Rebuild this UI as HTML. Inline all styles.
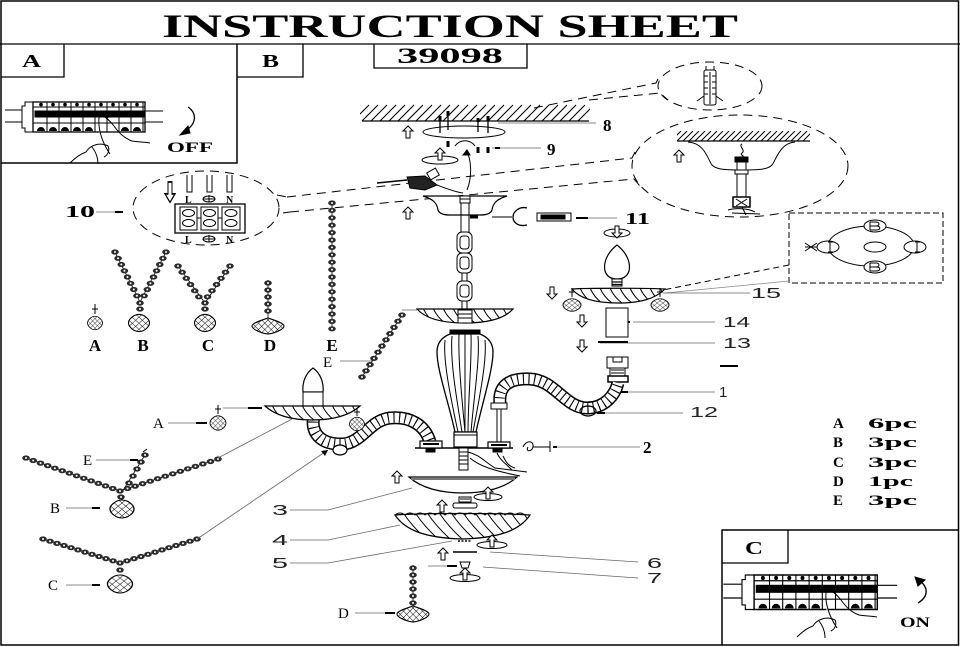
<!DOCTYPE html>
<html><head><meta charset="utf-8"><style>
html,body{margin:0;padding:0;background:#fff}
svg{display:block}
.sb{font-family:"Liberation Serif",serif;font-weight:bold;fill:#000}
.sr{font-family:"Liberation Serif",serif;font-weight:normal;fill:#000}
.nn{font-family:"Liberation Sans",sans-serif;font-weight:normal;fill:#222}
</style></head><body>
<svg width="960" height="647" viewBox="0 0 960 647" xmlns="http://www.w3.org/2000/svg">
<defs>
<pattern id="xh" width="4.5" height="4.5" patternUnits="userSpaceOnUse" patternTransform="rotate(45)"><rect width="4.5" height="4.5" fill="#fff"/><path d="M0,0V4.5M0,0H4.5" stroke="#000" stroke-width="0.9"/></pattern>
<g id="ua"><path d="M0,0L-5,5H-2V12H2V5H5Z" fill="#fff" stroke="#000" stroke-width="1"/></g>
<g id="da"><path d="M0,12L-5,7H-2V0H2V7H5Z" fill="#fff" stroke="#000" stroke-width="1"/></g>
<g id="bd"><ellipse rx="3.8" ry="2.6" fill="#2a2a2a"/><circle r="1" fill="#fff"/></g>
<g id="cr"><path d="M0,-9C5,-9 10,-4 10,0C10,4 5,9 0,9C-5,9 -10,4 -10,0C-10,-4 -5,-9 0,-9Z" fill="url(#xh)" stroke="#000" stroke-width="1.1"/></g>
<g id="crd"><path d="M0,-8C6,-6 16,-3 16,0C16,3 8,7 0,8C-8,7 -16,3 -16,0C-16,-3 -6,-6 0,-8Z" fill="url(#xh)" stroke="#000" stroke-width="1.1"/></g>
<g id="brk" stroke="#000" fill="none" stroke-width="1">
 <path d="M-17,8H0M-17,20H0M123,9H141M123,20H141"/>
 <path d="M3,0H11V30H3V26H0V4H3Z" fill="#fff"/>
 <rect x="11" y="0" width="112" height="30" fill="#fff" stroke-width="1.3"/>
 <rect x="13" y="9" width="110" height="6" fill="#000"/>
 <path d="M11,5H123M11,21H123M25,0V30M37,0V30M49,0V30M61,0V30M73,0V30M85,0V30M97,0V30M109,0V30M121,0V30"/>
 <g fill="#000" stroke="none">
  <circle cx="19" cy="2.6" r="1.8"/><circle cx="31" cy="2.6" r="1.8"/><circle cx="43" cy="2.6" r="1.8"/><circle cx="55" cy="2.6" r="1.8"/><circle cx="67" cy="2.6" r="1.8"/><circle cx="79" cy="2.6" r="1.8"/><circle cx="91" cy="2.6" r="1.8"/><circle cx="103" cy="2.6" r="1.8"/><circle cx="115" cy="2.6" r="1.8"/>
  <path d="M15,29a4,4 0 0 1 8,0ZM27,29a4,4 0 0 1 8,0ZM39,29a4,4 0 0 1 8,0ZM51,29a4,4 0 0 1 8,0ZM63,29a4,4 0 0 1 8,0ZM99,29a4,4 0 0 1 8,0ZM111,29a4,4 0 0 1 8,0Z"/>
 </g>
</g>
<clipPath id="cd1"><path d="M417,309L513,309C505,318 490,323 465,323C440,323 425,318 417,309Z"/></clipPath>
<clipPath id="cd2"><path d="M572,289C585,288 650,288 665,289C655,299 640,303 618,303C596,303 580,299 572,289Z"/></clipPath>
<clipPath id="cd3"><path d="M265,406L360,406C350,415 335,420 312,420C290,420 275,415 265,406Z"/></clipPath>
<clipPath id="cd4"><path d="M395,515C420,513 505,513 530,515C520,530 500,538 462,539C425,538 405,530 395,515Z"/></clipPath>
<clipPath id="ch1"><rect x="360" y="104" width="230" height="17"/></clipPath>
<clipPath id="ch2"><rect x="677" y="131" width="133" height="10"/></clipPath>
</defs>

<!-- frame -->
<g fill="none" stroke="#000">
<rect x="1" y="1" width="957.5" height="644" stroke-width="1.5"/>
<path d="M0,44H960" stroke-width="1.3"/>
<path d="M1,163H237V44" stroke-width="1.5"/>
<path d="M1,77H64V44" stroke-width="1.3"/>
<path d="M237,77H303V44" stroke-width="1.3"/>
<path d="M374,44V68H527V44" stroke-width="1.3"/>
<path d="M722,645V530H958" stroke-width="1.5"/>
<path d="M722,563H788V530" stroke-width="1.3"/>
</g>

<text class="sb" x="162" y="37" font-size="33" textLength="576" lengthAdjust="spacingAndGlyphs">INSTRUCTION SHEET</text>
<text class="sb" x="397" y="63" font-size="22" textLength="106" lengthAdjust="spacingAndGlyphs">39098</text>
<text class="sb" x="22" y="67" font-size="18" textLength="19" lengthAdjust="spacingAndGlyphs">A</text>
<text class="sb" x="262" y="67" font-size="18" textLength="17" lengthAdjust="spacingAndGlyphs">B</text>
<text class="sb" x="745" y="554" font-size="18" textLength="18" lengthAdjust="spacingAndGlyphs">C</text>

<!-- panel A -->
<use href="#brk" transform="translate(22,102)"/>
<g fill="none" stroke="#000" stroke-width="1">
<path d="M99,118C98,130 102,142 110,154L118,154C116,146 120,140 128,138C136,137 143,140 150,143L150,156L100,160Z" fill="#fff" stroke="none"/>
<path d="M99,118C98,130 102,142 110,154M103,116C107,118 110,121 114,126C119,133 124,138 132,141C138,142 145,142 150,143"/>
<path d="M99,118C100,114 106,114 108,118"/>
<path d="M86,152C90,145 100,142 108,146C110,150 108,155 104,157M86,152C80,154 75,158 70,163M92,147C96,152 98,158 98,164"/>
<path d="M188,107C197,113 197,124 185,131" stroke-width="1.3"/>
<path d="M180,135L188,126L190,133Z" fill="#000"/>
</g>
<text class="sb" x="167" y="152" font-size="15" textLength="46" lengthAdjust="spacingAndGlyphs">OFF</text>

<!-- panel C -->
<use href="#brk" transform="translate(742,575) scale(1.1,1.15)"/>
<g fill="none" stroke="#000" stroke-width="1">
<path d="M826,592C825,604 829,616 837,628L845,628C843,620 847,614 855,612C863,611 870,614 877,617L877,630L827,634Z" fill="#fff" stroke="none"/>
<path d="M826,592C825,604 829,616 837,628M830,590C834,592 837,595 841,600C846,607 851,612 859,615C865,616 872,616 877,617"/>
<path d="M826,592C827,588 833,588 835,592"/>
<path d="M813,626C817,619 827,616 835,620C837,624 835,629 831,631M813,626C807,628 802,632 797,637M819,621C823,626 825,632 825,638"/>
<path d="M918,603C928,597 929,588 920,581" stroke-width="1.3"/>
<path d="M915,577L925,580L918,586Z" fill="#000"/>
</g>
<text class="sb" x="900" y="627" font-size="15" textLength="30" lengthAdjust="spacingAndGlyphs">ON</text>

<!-- parts list -->
<g class="sb" font-size="15">
<text x="833" y="428">A</text><text x="868" y="428" textLength="49" lengthAdjust="spacingAndGlyphs">6pc</text>
<text x="833" y="447">B</text><text x="868" y="447" textLength="49" lengthAdjust="spacingAndGlyphs">3pc</text>
<text x="833" y="467">C</text><text x="868" y="467" textLength="49" lengthAdjust="spacingAndGlyphs">3pc</text>
<text x="833" y="486">D</text><text x="868" y="486" textLength="45" lengthAdjust="spacingAndGlyphs">1pc</text>
<text x="833" y="505">E</text><text x="868" y="505" textLength="49" lengthAdjust="spacingAndGlyphs">3pc</text>
</g>

<!-- dashed detail connectors -->
<g fill="none" stroke="#000" stroke-width="1" stroke-dasharray="9 6">
<path d="M534,108L656,83L659,77"/>
<path d="M589,100L660,93L668,100"/>
<ellipse cx="710" cy="86" rx="52" ry="24"/>
<path d="M287,197L632,158L636,150"/>
<path d="M290,212L634,179L640,186"/>
<ellipse cx="740" cy="166" rx="108" ry="51"/>
<path d="M277,195L287,197M283,213L290,212"/>
<ellipse cx="206" cy="208" rx="73" ry="37"/>
<path d="M96,212H120" stroke-dasharray="none" stroke="#666" stroke-width="0.8"/>
<rect x="789" y="213" width="154" height="70" stroke-dasharray="6 3"/>
<path d="M789,265L663,290" stroke-dasharray="6 4"/>
<path d="M789,281L665,293" stroke-dasharray="none" stroke="#888" stroke-width="0.8"/>
</g>
<path d="M115,212H123" stroke="#000" stroke-width="2"/>
<text class="sb" x="65" y="217" font-size="17" textLength="30" lengthAdjust="spacingAndGlyphs">10</text>

<!-- anchor -->
<g fill="none" stroke="#000" stroke-width="1">
<rect x="704" y="70" width="12" height="35" rx="2" fill="#fff"/>
<path d="M706,70V66M714,70V66M708,76H704M708,82H704M708,88H704M708,94H704M712,76H716M712,82H716M712,88H716M712,94H716M710,72V104"/>
<path d="M704,96L697,101M716,96L723,101"/>
</g>

<!-- ceiling close-up -->
<g fill="none" stroke="#000" stroke-width="1">
<g clip-path="url(#ch2)"><path d="M671,141l10,-10M677,141l10,-10M683,141l10,-10M689,141l10,-10M695,141l10,-10M701,141l10,-10M707,141l10,-10M713,141l10,-10M719,141l10,-10M725,141l10,-10M731,141l10,-10M737,141l10,-10M743,141l10,-10M749,141l10,-10M755,141l10,-10M761,141l10,-10M767,141l10,-10M773,141l10,-10M779,141l10,-10M785,141l10,-10M791,141l10,-10M797,141l10,-10M803,141l10,-10"/></g>
<path d="M677,141H810" stroke-width="1.3"/>
<path d="M688,142C705,143 708,160 712,165C716,169 722,170 742,170C762,170 768,169 772,165C776,160 780,143 795,142"/>
<path d="M742,144C738,146 746,150 742,153C739,155 746,156 742,157"/>
<rect x="735" y="157" width="13" height="5" fill="#000"/>
<path d="M737,162V197M746,162V197"/>
<rect x="735" y="170" width="13" height="4" fill="#fff"/>
<rect x="733" y="197" width="17" height="10" fill="#fff" stroke-width="1.5"/>
<path d="M736,199L747,206M747,199L736,206M728,210C735,208 748,208 755,212M732,213L760,214M742,207L746,215"/>
</g>
<use href="#ua" x="679" y="150"/>

<!-- dashed box content -->
<g fill="#fff" stroke="#000" stroke-width="1">
<ellipse cx="871" cy="246" rx="43" ry="20" fill="none"/>
<ellipse cx="875" cy="247" rx="11" ry="5"/>
<ellipse cx="875" cy="226" rx="11" ry="6"/><path d="M870,222V230M870,222H876C880,222 880,226 876,226H870M876,226C881,226 881,230 876,230H870" fill="none"/>
<ellipse cx="875" cy="267" rx="11" ry="6"/><path d="M870,263V271M870,263H876C880,263 880,267 876,267H870M876,267C881,267 881,271 876,271H870" fill="none"/>
<ellipse cx="828" cy="247" rx="11" ry="6"/><path d="M830,242V252M828,242H833M828,252H833" fill="none"/>
<ellipse cx="915" cy="247" rx="11" ry="6"/><path d="M917,242V252M915,242H920M915,252H920" fill="none"/>
<path d="M805,243L817,251M805,251L817,243M805,247H817" fill="none"/>
</g>

<!-- terminal block -->
<g fill="none" stroke="#000" stroke-width="1">
<rect x="175" y="204" width="70" height="29" fill="#fff" stroke-width="1.3"/>
<rect x="180" y="207" width="17" height="23"/><rect x="201" y="207" width="17" height="23"/><rect x="222" y="207" width="18" height="23"/>
<ellipse cx="188.5" cy="213" rx="6" ry="3.5"/><ellipse cx="188.5" cy="223" rx="6" ry="3.5"/>
<ellipse cx="209.5" cy="213" rx="6" ry="3.5"/><ellipse cx="209.5" cy="223" rx="6" ry="3.5"/>
<ellipse cx="231" cy="213" rx="6" ry="3.5"/><ellipse cx="231" cy="223" rx="6" ry="3.5"/>
<path d="M197,218H201M218,218H222"/>
<path d="M187,175V192H192V175M207,175V192H212V175M227,175V192H232V175"/>
<ellipse cx="209" cy="199" rx="6" ry="3"/><path d="M209,195V202M203,199H215"/>
<ellipse cx="209" cy="239" rx="6" ry="3"/><path d="M209,235V242M203,239H215"/>
</g>
<use href="#da" transform="translate(170,182) scale(1,1.7)"/>
<g class="sb" font-size="10"><text x="185" y="203">L</text><text x="226" y="203">N</text><text x="185" y="243">L</text><text x="226" y="243">N</text></g>

<!-- crystal legend -->
<g>
<path d="M95,304V314M92,309H98" stroke="#000" stroke-width="1"/>
<use href="#cr" transform="translate(95,323) scale(0.75)"/>
<path d="M115,252L140,302L166,252M178,266L205,303L230,266M268,280V318M332,201V330" stroke="#000" stroke-width="0.8" fill="none"/>
<use href="#bd" x="115" y="252"/><use href="#bd" x="118.1" y="258.3"/><use href="#bd" x="121.3" y="264.5"/><use href="#bd" x="124.4" y="270.8"/><use href="#bd" x="127.5" y="277"/><use href="#bd" x="130.6" y="283.3"/><use href="#bd" x="133.8" y="289.5"/><use href="#bd" x="136.9" y="295.8"/>
<use href="#bd" x="166" y="252"/><use href="#bd" x="162.9" y="258.3"/><use href="#bd" x="159.8" y="264.5"/><use href="#bd" x="156.6" y="270.8"/><use href="#bd" x="153.5" y="277"/><use href="#bd" x="150.4" y="283.3"/><use href="#bd" x="147.3" y="289.5"/><use href="#bd" x="144.1" y="295.8"/>
<use href="#bd" x="140" y="303"/><use href="#bd" x="140" y="309"/>
<use href="#cr" transform="translate(139,323) scale(1.05,0.95)"/>
<use href="#bd" x="178" y="266"/><use href="#bd" x="182.2" y="272.2"/><use href="#bd" x="186.3" y="278.3"/><use href="#bd" x="190.5" y="284.5"/><use href="#bd" x="194.7" y="290.7"/><use href="#bd" x="198.8" y="296.8"/>
<use href="#bd" x="230" y="266"/><use href="#bd" x="225.5" y="272.2"/><use href="#bd" x="221" y="278.3"/><use href="#bd" x="216.5" y="284.5"/><use href="#bd" x="212" y="290.7"/><use href="#bd" x="207.5" y="296.8"/>
<use href="#bd" x="205" y="303"/><use href="#bd" x="205" y="309"/>
<use href="#cr" transform="translate(205,323) scale(1.05,0.95)"/>
<use href="#bd" x="268" y="283"/><use href="#bd" x="268" y="290"/><use href="#bd" x="268" y="297"/><use href="#bd" x="268" y="304"/><use href="#bd" x="268" y="311"/>
<use href="#crd" transform="translate(268,326)"/>
<use href="#bd" x="332" y="203"/><use href="#bd" x="332" y="210.4"/><use href="#bd" x="332" y="217.8"/><use href="#bd" x="332" y="225.2"/><use href="#bd" x="332" y="232.6"/><use href="#bd" x="332" y="240"/><use href="#bd" x="332" y="247.4"/><use href="#bd" x="332" y="254.8"/><use href="#bd" x="332" y="262.2"/><use href="#bd" x="332" y="269.6"/><use href="#bd" x="332" y="277"/><use href="#bd" x="332" y="284.4"/><use href="#bd" x="332" y="291.8"/><use href="#bd" x="332" y="299.2"/><use href="#bd" x="332" y="306.6"/><use href="#bd" x="332" y="314"/><use href="#bd" x="332" y="321.4"/><use href="#bd" x="332" y="328.8"/>
</g>
<g class="sb" font-size="17" text-anchor="middle">
<text x="95" y="351">A</text><text x="143" y="351">B</text><text x="208" y="351">C</text><text x="270" y="351">D</text><text x="332" y="351">E</text>
</g>

<!-- lower-left necklaces -->
<g>
<path d="M26,458L120,491L218,459M43,539L120,563L197,539M145,455L122,492" stroke="#000" stroke-width="0.8" fill="none"/>
<use href="#bd" x="26" y="458"/><use href="#bd" x="33.2" y="460.5"/><use href="#bd" x="40.5" y="463.1"/><use href="#bd" x="47.7" y="465.6"/><use href="#bd" x="54.9" y="468.2"/><use href="#bd" x="62.2" y="470.7"/><use href="#bd" x="69.4" y="473.2"/><use href="#bd" x="76.6" y="475.8"/><use href="#bd" x="83.8" y="478.3"/><use href="#bd" x="91.1" y="480.8"/><use href="#bd" x="98.3" y="483.4"/><use href="#bd" x="105.5" y="485.9"/><use href="#bd" x="112.8" y="488.5"/><use href="#bd" x="120" y="491"/>
<use href="#bd" x="127.5" y="488.5"/><use href="#bd" x="135.1" y="486.1"/><use href="#bd" x="142.6" y="483.6"/><use href="#bd" x="150.2" y="481.2"/><use href="#bd" x="157.7" y="478.7"/><use href="#bd" x="165.2" y="476.2"/><use href="#bd" x="172.8" y="473.8"/><use href="#bd" x="180.3" y="471.3"/><use href="#bd" x="187.8" y="468.8"/><use href="#bd" x="195.4" y="466.4"/><use href="#bd" x="202.9" y="463.9"/><use href="#bd" x="210.5" y="461.5"/><use href="#bd" x="218" y="459"/>
<use href="#bd" x="145" y="455"/><use href="#bd" x="141" y="462"/><use href="#bd" x="137" y="469"/><use href="#bd" x="133" y="476"/><use href="#bd" x="129" y="483"/>
<path d="M143,452L147,449" stroke="#000"/>
<use href="#bd" x="121" y="497"/>
<use href="#cr" transform="translate(122,509) scale(1.2,1)"/>
<use href="#bd" x="43" y="539"/><use href="#bd" x="50" y="541.2"/><use href="#bd" x="57" y="543.4"/><use href="#bd" x="64" y="545.5"/><use href="#bd" x="71" y="547.7"/><use href="#bd" x="78" y="549.9"/><use href="#bd" x="85" y="552.1"/><use href="#bd" x="92" y="554.3"/><use href="#bd" x="99" y="556.5"/><use href="#bd" x="106" y="558.6"/><use href="#bd" x="113" y="560.8"/><use href="#bd" x="120" y="563"/>
<use href="#bd" x="127" y="560.8"/><use href="#bd" x="134" y="558.6"/><use href="#bd" x="141" y="556.5"/><use href="#bd" x="148" y="554.3"/><use href="#bd" x="155" y="552.1"/><use href="#bd" x="162" y="549.9"/><use href="#bd" x="169" y="547.7"/><use href="#bd" x="176" y="545.5"/><use href="#bd" x="183" y="543.4"/><use href="#bd" x="190" y="541.2"/><use href="#bd" x="197" y="539"/>
<use href="#bd" x="120" y="570"/>
<use href="#cr" transform="translate(120,584) scale(1.25,1)"/>
<path d="M218,405V414M215,409H221" stroke="#000"/>
<use href="#cr" transform="translate(218,423) scale(0.8)"/>
</g>
<g fill="none" stroke="#666" stroke-width="0.8">
<path d="M168,423H207M223,408H262M96,460H138M66,508H100M66,585H100M355,613H395M218,458L292,419M197,539L328,450"/>
<path d="M290,510H328L412,488M290,540H328L400,525M290,563H328L452,541M638,562L490,552M638,578L483,567M428,566H447"/>
<path d="M340,361H372M402,310H417"/>
<path d="M596,123H498M541,148H492M617,218H577M750,293H663M715,322H633M715,343H600M715,392H628M683,413H597M640,447H553"/>
</g>
<g stroke="#000" stroke-width="2">
<path d="M196,423H207M248,408H262M130,460H138M92,508H100M92,585H100M385,613H395M576,218H588M495,148H500M720,366H738M612,322H630M614,392H628M597,413H605M557,447H553"/>
</g>
<path d="M328,450L321,451L325,456Z" fill="#000"/>
<g class="sr" font-size="15">
<text x="153" y="428">A</text><text x="83" y="465">E</text><text x="50" y="513">B</text><text x="48" y="590">C</text><text x="338" y="618">D</text><text x="323" y="367">E</text>
</g>
<g class="nn" font-size="15">
<text x="751" y="298" textLength="30" lengthAdjust="spacingAndGlyphs">15</text>
<text x="723" y="327" textLength="27" lengthAdjust="spacingAndGlyphs">14</text>
<text x="723" y="348" textLength="28" lengthAdjust="spacingAndGlyphs">13</text>
<text x="719" y="397">1</text>
<text x="690" y="417" textLength="28" lengthAdjust="spacingAndGlyphs">12</text>
<text x="272" y="515" textLength="16" lengthAdjust="spacingAndGlyphs">3</text>
<text x="272" y="545" textLength="16" lengthAdjust="spacingAndGlyphs">4</text>
<text x="272" y="568" textLength="16" lengthAdjust="spacingAndGlyphs">5</text>
<text x="647" y="568" textLength="15" lengthAdjust="spacingAndGlyphs">6</text>
<text x="647" y="583" textLength="15" lengthAdjust="spacingAndGlyphs">7</text>
</g>
<g class="sb" font-size="17">
<text x="603" y="131">8</text><text x="547" y="155">9</text>
<text x="625" y="224" textLength="25" lengthAdjust="spacingAndGlyphs">11</text>
<text x="643" y="453">2</text>
</g>

<!-- ceiling + canopy -->
<g fill="none" stroke="#000" stroke-width="1">
<g clip-path="url(#ch1)" stroke-width="1.1"><path d="M344,121l16,-16M353,121l16,-16M362,121l16,-16M371,121l16,-16M380,121l16,-16M389,121l16,-16M398,121l16,-16M407,121l16,-16M416,121l16,-16M425,121l16,-16M434,121l16,-16M443,121l16,-16M452,121l16,-16M461,121l16,-16M470,121l16,-16M479,121l16,-16M488,121l16,-16M497,121l16,-16M506,121l16,-16M515,121l16,-16M524,121l16,-16M533,121l16,-16M542,121l16,-16M551,121l16,-16M560,121l16,-16M569,121l16,-16M578,121l16,-16"/></g>
<path d="M362,121H589" stroke-width="1.3"/>
<ellipse cx="464" cy="132" rx="41" ry="6"/>
<path d="M440,118V133M448,113V130M478,120V132M488,118V133" stroke-width="1.3"/>
<path d="M440,116V121M448,111V116M478,118V122M488,116V121" stroke-width="3"/>
<path d="M448,141V147M478,147V153M488,147V153" stroke-width="3"/>
<path d="M455,146C460,139 470,139 475,146M466,150C472,160 472,178 467,190"/>
<path d="M467,150L463,155L470,155Z" fill="#000"/>
<ellipse cx="440" cy="160" rx="18" ry="4"/>
<path d="M377,183L407,180" stroke-width="1.5"/>
<path d="M407,177L425,176L437,185L425,190L410,188Z" fill="#222"/>
<rect x="428" y="170" width="10" height="8" transform="rotate(-30 433 174)" fill="#fff"/>
<path d="M437,185C445,188 455,192 463,193"/>
<!-- cup -->
<path d="M423,196L507,196C497,199 493,203 492,210C491,213 488,215 480,215L450,215C442,215 439,213 438,210C437,203 433,199 423,196Z" fill="#fff" stroke-width="1.2"/>
<rect x="460" y="196" width="10" height="7" fill="#fff"/>
<path d="M460,199H470M461,203V232M469,203V232"/>
<path d="M470,217H478" stroke-width="3"/>
<path d="M527,208C519,206 513,212 513,217C513,223 519,227 527,225" stroke-width="1.3"/>
<path d="M492,217H512"/>
<rect x="537" y="213" width="34" height="8" fill="#fff"/>
<rect x="541" y="215" width="24" height="4" fill="#000"/>
<!-- chain -->
<rect x="457" y="232" width="15" height="21" rx="5"/><rect x="460" y="236" width="9" height="13" rx="3"/>
<rect x="457" y="253" width="15" height="20" rx="5"/><rect x="460" y="257" width="9" height="12" rx="3"/>
<path d="M462,273V281M467,273V281"/>
<rect x="457" y="281" width="15" height="20" rx="5"/><rect x="460" y="285" width="9" height="12" rx="3"/>
<path d="M462,301V310M467,301V310"/>
</g>
<use href="#ua" x="408" y="126"/>
<use href="#ua" x="408" y="207"/>
<use href="#ua" x="440" y="148"/>

<!-- bulb top right -->
<g fill="none" stroke="#000" stroke-width="1">
<ellipse cx="617" cy="233" rx="13" ry="4"/>
<path d="M617,245C608,252 603,262 605,271C607,277 612,279 617,279C622,279 627,277 629,271C631,262 626,252 617,245Z" fill="#fff" stroke-width="1.2"/>
<rect x="612" y="279" width="10" height="7" fill="#fff"/>
<path d="M612,282H622M612,284.5H622" stroke-width="1.2"/>
</g>
<use href="#da" x="617" y="226"/>

<!-- right dish 15 and parts -->
<g fill="none" stroke="#000" stroke-width="1">
<path d="M572,289C585,288 650,288 665,289C655,299 640,303 618,303C596,303 580,299 572,289Z" fill="#fff" stroke-width="1.2"/>
<g clip-path="url(#cd2)"><path d="M570,288q4,9 12,15M580,288q4,9 12,15M590,288q4,9 12,15M600,288q4,9 12,15M610,288q4,9 12,15M620,288q4,9 12,15M630,288q4,9 12,15M640,288q4,9 12,15M650,288q4,9 12,15M660,288q4,9 12,15"/></g>
<path d="M572,288V297M569,292H575M660,288V297M657,292H663"/>
<rect x="606" y="308" width="22" height="29" fill="#fff"/>
<path d="M598,342H628" stroke-width="2"/>
<path d="M607,357H628V368H607Z" fill="#fff"/>
<path d="M613,357V362H622V357"/>
<rect x="610" y="368" width="15" height="8" fill="#fff"/><path d="M611,370H624M611,373H624"/>
<rect x="608" y="376" width="20" height="6" fill="#fff" stroke-width="1.5"/>
</g>
<use href="#cr" transform="translate(572,305) scale(0.9,0.7)"/>
<use href="#cr" transform="translate(660,305) scale(0.9,0.7)"/>
<use href="#da" x="552" y="287"/>
<use href="#da" x="582" y="315"/>
<use href="#da" x="582" y="340"/>

<!-- arms -->
<g fill="none">
<path d="M314,416C310,432 320,445 343,444C362,443 370,420 390,418C410,416 425,425 430,442" stroke="#000" stroke-width="13"/>
<path d="M314,416C310,432 320,445 343,444C362,443 370,420 390,418C410,416 425,425 430,442" stroke="#fff" stroke-width="10"/>
<path d="M314,416C310,432 320,445 343,444C362,443 370,420 390,418C410,416 425,425 430,442" stroke="#000" stroke-width="10" stroke-dasharray="1.1 4.5"/>
<path d="M500,404C498,385 510,378 530,379C555,380 565,408 587,408C605,408 615,395 618,383" stroke="#000" stroke-width="13"/>
<path d="M500,404C498,385 510,378 530,379C555,380 565,408 587,408C605,408 615,395 618,383" stroke="#fff" stroke-width="10"/>
<path d="M500,404C498,385 510,378 530,379C555,380 565,408 587,408C605,408 615,395 618,383" stroke="#000" stroke-width="10" stroke-dasharray="1.1 4.5"/>
<ellipse cx="340" cy="450" rx="7" ry="5" stroke="#000" stroke-width="1.2" fill="#fff"/>
<ellipse cx="588" cy="411" rx="8" ry="5" stroke="#000" stroke-width="1.2"/>
</g>
<g fill="none" stroke="#000" stroke-width="1">
<!-- left candle + dish -->
<path d="M313,368C306,373 302,382 303,392L323,392C324,382 320,373 313,368Z" fill="#fff" stroke-width="1.2"/>
<rect x="303" y="392" width="20" height="14" fill="#fff"/>
<path d="M265,406L360,406C350,415 335,420 312,420C290,420 275,415 265,406Z" fill="#fff" stroke-width="1.2"/>
<g clip-path="url(#cd3)"><path d="M262,405q4,9 12,15M272,405q4,9 12,15M282,405q4,9 12,15M292,405q4,9 12,15M302,405q4,9 12,15M312,405q4,9 12,15M322,405q4,9 12,15M332,405q4,9 12,15M342,405q4,9 12,15M352,405q4,9 12,15"/></g>
<path d="M357,408V416M354,412H360"/>
<!-- central bobeche -->
<path d="M417,309L513,309C505,318 490,323 465,323C440,323 425,318 417,309Z" fill="#fff" stroke-width="1.2"/>
<g clip-path="url(#cd1)"><path d="M413,308q4,9 12,15M423,308q4,9 12,15M433,308q4,9 12,15M443,308q4,9 12,15M453,308q4,9 12,15M463,308q4,9 12,15M473,308q4,9 12,15M483,308q4,9 12,15M493,308q4,9 12,15M503,308q4,9 12,15"/></g>
<rect x="458" y="310" width="14" height="13" fill="#fff"/><path d="M458,314H472M458,318H472"/>
<!-- vase -->
<path d="M450,330H480V334H450Z" fill="#000"/>
<path d="M450,334C440,338 437,345 437,352C437,370 448,400 455,432L476,432C483,400 493,370 493,352C493,345 490,338 480,334Z" fill="#fff" stroke-width="1.3"/>
<path d="M445,340C443,360 450,395 458,432M452,336C450,360 456,395 462,432M459,334C458,360 462,400 465,432M465,334V432M471,334C472,360 468,400 468,432M478,336C480,360 474,395 471,432M485,340C487,360 480,395 473,432"/>
<rect x="454" y="432" width="23" height="15" fill="#fff" stroke-width="1.2"/>
<path d="M454,435H477"/>
<!-- base plate -->
<path d="M415,448H513" stroke-width="1.5"/>
<rect x="420" y="441" width="22" height="7" fill="#fff" stroke-width="1.2"/><path d="M423,444H439" stroke-width="2"/>
<rect x="491" y="403" width="16" height="6" fill="#fff"/>
<path d="M497,409V442M501,409V442"/>
<rect x="488" y="442" width="22" height="6" fill="#fff" stroke-width="1.2"/><path d="M491,445H507" stroke-width="2"/>
<rect x="426" y="448" width="9" height="4" fill="#000"/>
<rect x="493" y="448" width="9" height="4" fill="#000"/>
<rect x="459" y="448" width="9" height="22" fill="#fff"/>
<path d="M459,452H468M459,456H468M459,460H468M459,464H468"/>
<path d="M468,452C480,455 485,462 495,468L527,472M470,458C478,465 490,470 520,476M497,453C500,460 505,463 512,470M503,456C506,462 508,466 515,468"/>
<path d="M523,447C526,440 534,440 533,447C532,452 525,452 528,447M533,447H550M550,441V452"/>
<!-- drip bowl 3 -->
<path d="M409,477L517,477C505,488 485,493 463,493C441,493 421,488 409,477Z" fill="#fff" stroke-width="1.2"/>
<path d="M411,479H515" stroke="#777" stroke-width="2"/>
<ellipse cx="488" cy="497" rx="14" ry="3.5"/>
<rect x="459" y="497" width="12" height="5" fill="#fff"/><path d="M460,499H470"/>
<rect x="453" y="503" width="24" height="5" rx="2" fill="#fff"/>
<!-- dish 4 -->
<path d="M395,515C420,513 505,513 530,515C520,530 500,538 462,539C425,538 405,530 395,515Z" fill="#fff" stroke-width="1.2"/>
<g clip-path="url(#cd4)"><path d="M392,514q8,12 22,25M404,514q8,12 22,25M416,514q8,12 22,25M428,514q8,12 22,25M440,514q8,12 22,25M452,514q8,12 22,25M464,514q8,12 22,25M476,514q8,12 22,25M488,514q8,12 22,25M500,514q8,12 22,25M512,514q8,12 22,25M524,514q8,12 22,25"/></g>
<path d="M395,515q5,-4 10,0q5,-4 10,0q5,-4 10,0q5,-4 10,0q5,-4 10,0q5,-4 10,0q5,-4 10,0q5,-4 10,0q5,-4 10,0q5,-4 10,0q5,-4 10,0q5,-4 10,0q5,-4 10,0"/>
<path d="M458,541H472" stroke-dasharray="2 1.5" stroke-width="1.5"/>
<ellipse cx="492" cy="545" rx="15" ry="3.5"/>
<path d="M453,552H477" stroke-width="1.5"/>
<path d="M460,562H470L468,568H462Z" fill="#fff"/>
<path d="M447,566H457" stroke-width="2"/>
<ellipse cx="465" cy="578" rx="15" ry="3.5"/>
</g>
<use href="#cr" transform="translate(357,424) scale(0.75)"/>
<use href="#ua" x="397" y="471"/>
<use href="#ua" x="488" y="487"/>
<use href="#ua" x="442" y="500"/>
<use href="#ua" x="492" y="535"/>
<use href="#ua" x="443" y="548"/>
<use href="#ua" x="465" y="568"/>

<!-- E chain near chandelier -->
<path d="M402,315L362,377" stroke="#000" stroke-width="0.8"/>
<use href="#bd" x="402" y="315"/><use href="#bd" x="398" y="321.2"/><use href="#bd" x="394" y="327.4"/><use href="#bd" x="390" y="333.6"/><use href="#bd" x="386" y="339.8"/><use href="#bd" x="382" y="346"/><use href="#bd" x="378" y="352.2"/><use href="#bd" x="374" y="358.4"/><use href="#bd" x="370" y="364.6"/><use href="#bd" x="366" y="370.8"/><use href="#bd" x="362" y="377"/>

<!-- D bottom -->
<path d="M413,565V606" stroke="#000" stroke-width="0.8"/>
<use href="#bd" x="413" y="568"/><use href="#bd" x="413" y="575"/><use href="#bd" x="413" y="582"/><use href="#bd" x="413" y="589"/><use href="#bd" x="413" y="596"/><use href="#bd" x="413" y="603"/>
<use href="#crd" transform="translate(413,614)"/>
</svg>
</body></html>
